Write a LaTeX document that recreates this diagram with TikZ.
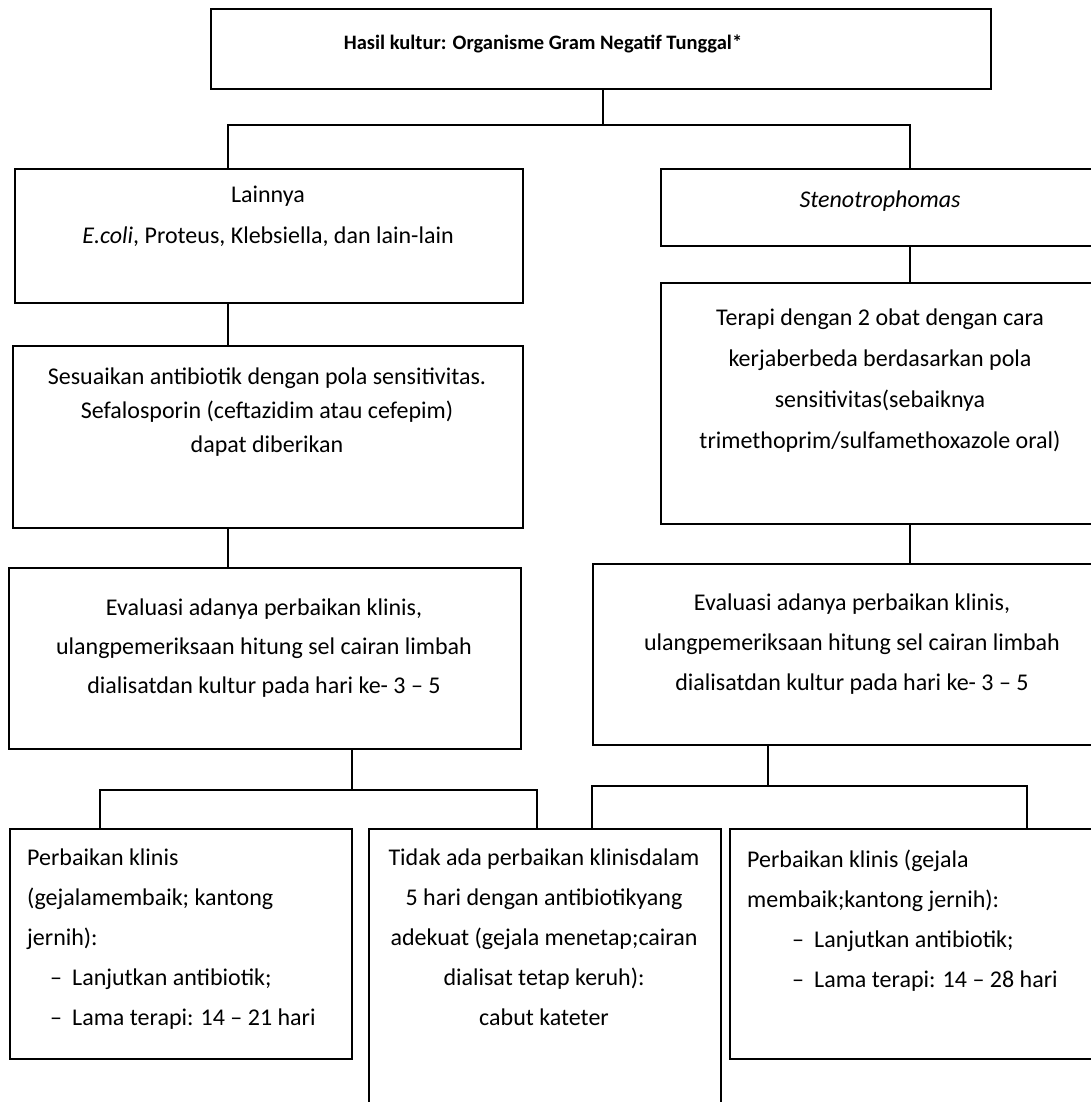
\documentclass[tikz,border=0pt]{standalone}
\usepackage{fontspec}
\setmainfont{Carlito}
\newcommand{\mystrut}{\rule{0pt}{20pt}}
\newcommand{\bul}{\makebox[22pt][l]{–}}
\begin{document}
\begin{tikzpicture}[x=1pt,y=-1pt,
  box/.style={draw=black, line width=2pt, rectangle, anchor=north west, inner sep=0pt},
  conn/.style={draw=black, line width=2pt},
  txt/.style={inner sep=0pt, anchor=north, align=center, font=\fontsize{24}{#1}\selectfont},
  txt/.default=40,
  ltxt/.style={inner sep=0pt, anchor=north west, align=left, font=\fontsize{24}{#1}\selectfont},
  ltxt/.default=40]
\useasboundingbox (0,0) rectangle (1091,1102);
\fill[white] (0,0) rectangle (1091,1102);
\clip (0,0) rectangle (1091,1102);

% boxes
\node[box, minimum width=780, minimum height=80] (top) at (210,8) {};
\node[box, minimum width=508, minimum height=134] (lain) at (14,168) {};
\node[box, minimum width=460, minimum height=77] (steno) at (660,168) {};
\node[box, minimum width=510, minimum height=182] (sesu) at (12,345) {};
\node[box, minimum width=460, minimum height=241] (terapi) at (660,282) {};
\node[box, minimum width=512, minimum height=181] (evalL) at (8,567) {};
\node[box, minimum width=520, minimum height=181] (evalR) at (592,563) {};
\node[box, minimum width=342, minimum height=230] (bl) at (9,828) {};
\node[box, minimum width=352, minimum height=300] (bm) at (368,828) {};
\node[box, minimum width=400, minimum height=230] (br) at (729,828) {};

% junction coordinates
\coordinate (j0) at (603,125);
\coordinate (jL) at (228,125);
\coordinate (jR) at (910,125);
\coordinate (kL) at (352,790);
\coordinate (kL1) at (100,790);
\coordinate (kL2) at (537,790);
\coordinate (kR) at (768,786);
\coordinate (kR1) at (592,786);
\coordinate (kR2) at (1027,786);

% connectors
\draw[conn] (top.south -| j0) -- (j0);
\draw[conn] (jL |- lain.north) -- (jL) -- (jR) -- (jR |- steno.north);
\draw[conn] (lain.south -| jL) -- (sesu.north -| jL);
\draw[conn] (sesu.south -| jL) -- (evalL.north -| jL);
\draw[conn] (steno.south -| jR) -- (terapi.north -| jR);
\draw[conn] (terapi.south -| jR) -- (evalR.north -| jR);
\draw[conn] (evalL.south -| kL) -- (kL);
\draw[conn] (kL1 |- bl.north) -- (kL1) -- (kL2) -- (kL2 |- bm.north);
\draw[conn] (evalR.south -| kR) -- (kR);
\draw[conn] (kR1 |- bm.north) -- (kR1) -- (kR2) -- (kR2 |- br.north);

% texts
\node[txt, font=\bfseries\fontsize{20.5}{40}\selectfont] (ttop) at (543,29) {\mystrut Hasil kultur: Organisme Gram Negatif Tunggal*};
\node[txt=41] (tlain) at (268,182) {\mystrut Lainnya\\ \textit{E.coli}, Proteus, Klebsiella, dan lain-lain};
\node[txt] (tsteno) at (880,187) {\mystrut\textit{Stenotrophomas}};
\node[txt=34] (tsesu) at (267,364) {\mystrut Sesuaikan antibiotik dengan pola sensitivitas.\\ Sefalosporin (ceftazidim atau cefepim)\\ dapat diberikan};
\node[txt=41] (tterapi) at (880,305) {\mystrut Terapi dengan 2 obat dengan cara\\ kerjaberbeda berdasarkan pola\\ sensitivitas(sebaiknya\\ trimethoprim/sulfamethoxazole oral)};
\node[txt=39] (tevalL) at (264,595) {\mystrut Evaluasi adanya perbaikan klinis,\\ ulangpemeriksaan hitung sel cairan limbah\\ dialisatdan kultur pada hari ke- 3 -- 5};
\node[txt=40] (tevalR) at (852,590) {\mystrut Evaluasi adanya perbaikan klinis,\\ ulangpemeriksaan hitung sel cairan limbah\\ dialisatdan kultur pada hari ke- 3 -- 5};
\node[ltxt] (tbl) at (27,845) {\mystrut Perbaikan klinis\\ (gejalamembaik; kantong\\ jernih):\\ \hspace*{23pt}\bul Lanjutkan antibiotik;\\ \hspace*{23pt}\bul Lama terapi: 14 -- 21 hari};
\node[txt] (tbm) at (544,845) {\mystrut Tidak ada perbaikan klinisdalam\\ 5 hari dengan antibiotikyang\\ adekuat (gejala menetap;cairan\\ dialisat tetap keruh):\\ cabut kateter};
\node[ltxt] (tbr) at (747,847) {\mystrut Perbaikan klinis (gejala\\ membaik;kantong jernih):\\ \hspace*{45pt}\bul Lanjutkan antibiotik;\\ \hspace*{45pt}\bul Lama terapi: 14 -- 28 hari};
\end{tikzpicture}
\end{document}
